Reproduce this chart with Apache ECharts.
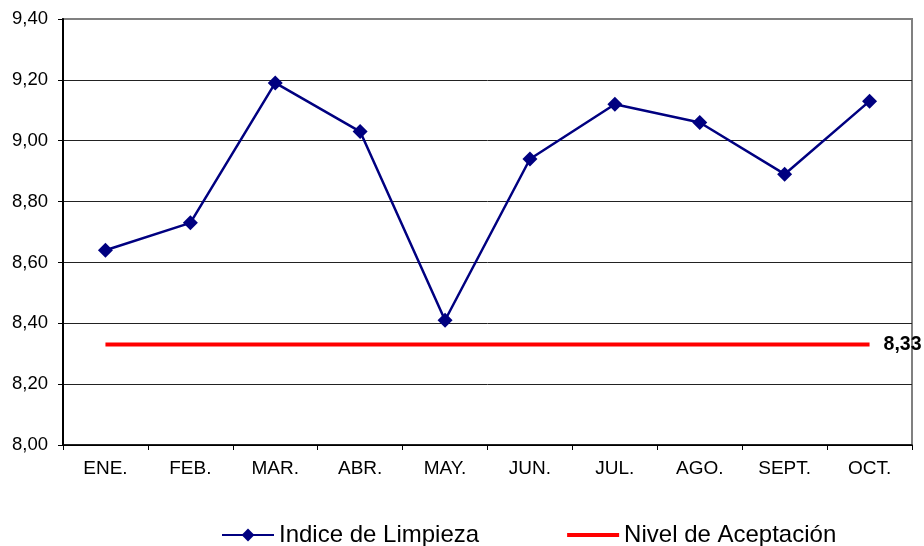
<!DOCTYPE html>
<html>
<head>
<meta charset="utf-8">
<script src="https://cdn.jsdelivr.net/npm/echarts@6/dist/echarts.min.js"></script>
<style>
  html, body { margin: 0; padding: 0; background: #fff; }
  #chart { width: 924px; height: 546px; }
</style>
</head>
<body>
<div id="chart"></div>
<script>
// meses
var meses = ['ENE.', 'FEB.', 'MAR.', 'ABR.', 'MAY.', 'JUN.', 'JUL.', 'AGO.', 'SEPT.', 'OCT.'];
// indice de limpieza mensual
var indiceLimpieza = [8.64, 8.73, 9.19, 9.03, 8.41, 8.94, 9.12, 9.06, 8.89, 9.13];
// nivel de aceptacion (constante)
var nivelAceptacion = [8.33, 8.33, 8.33, 8.33, 8.33, 8.33, 8.33, 8.33, 8.33, 8.33];

var coma = function (v) { return Number(v).toFixed(2).replace('.', ','); };

var mychart = echarts.init(document.getElementById('chart'));
var option = {
  animation: false,
  textStyle: { fontFamily: 'Liberation Sans, Arial, sans-serif' },
  grid: {
    left: 63, right: 12, top: 19, bottom: 101,
    show: true,
    borderColor: '#808080',
    borderWidth: 2
  },
  legend: {
    top: 518,
    left: 216,
    itemWidth: 52,
    itemHeight: 16,
    itemGap: 88,
    textStyle: { fontSize: 24, color: '#000', fontFamily: 'Liberation Sans, Arial, sans-serif' },
    data: [
      { name: 'Indice de Limpieza' },
      { name: 'Nivel de Aceptación', icon: 'path://M0,0 L52,0 L52,4 L0,4 Z' }
    ]
  },
  xAxis: {
    type: 'category',
    data: meses,
    boundaryGap: true,
    axisLine: { lineStyle: { color: '#000', width: 1.5 } },
    axisTick: { show: true, length: 5, lineStyle: { color: '#000' } },
    axisLabel: { color: '#000', fontSize: 19, margin: 14 }
  },
  yAxis: {
    type: 'value',
    min: 8,
    max: 9.4,
    interval: 0.2,
    axisLine: { show: true, lineStyle: { color: '#000', width: 2 } },
    axisTick: { show: true, length: 5, lineStyle: { color: '#000' } },
    axisLabel: { color: '#000', fontSize: 18.5, margin: 15, formatter: coma },
    splitLine: {
      lineStyle: {
        color: ['#000', '#222', '#222', '#222', '#222', '#222', '#222', '#808080'],
        width: 1
      }
    }
  },
  series: [
    {
      name: 'Indice de Limpieza',
      type: 'line',
      data: indiceLimpieza,
      symbol: 'diamond',
      symbolSize: 15,
      lineStyle: { color: '#000080', width: 2.5 },
      itemStyle: { color: '#000080' },
      z: 3
    },
    {
      name: 'Nivel de Aceptación',
      type: 'line',
      data: nivelAceptacion,
      showSymbol: false,
      symbol: 'none',
      lineStyle: { color: '#ff0000', width: 4 },
      itemStyle: { color: '#ff0000' },
      endLabel: {
        show: true,
        distance: 14,
        color: '#000',
        fontWeight: 'bold',
        fontSize: 19.5,
        formatter: function (p) { return coma(p.value); }
      },
      z: 2
    }
  ]
};
mychart.setOption(option);
</script>
</body>
</html>
